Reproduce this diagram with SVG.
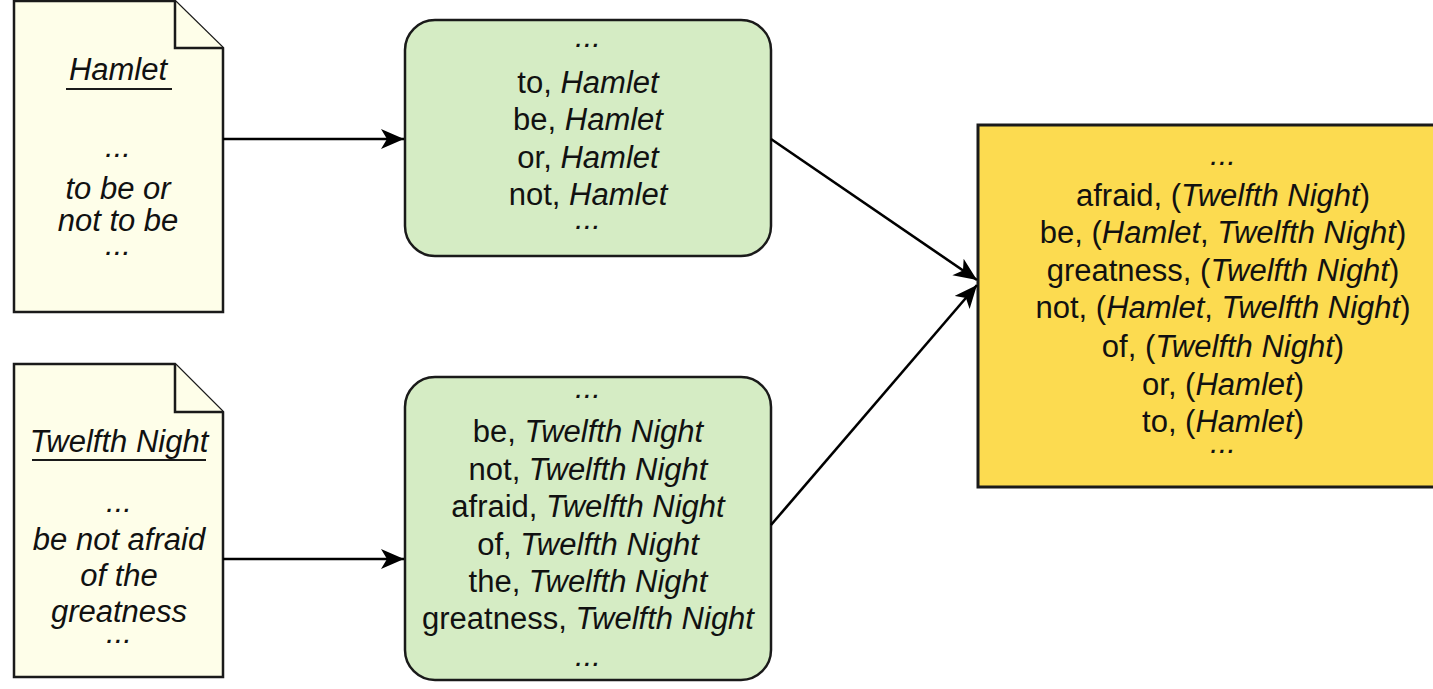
<svg xmlns="http://www.w3.org/2000/svg" width="1433" height="689" viewBox="0 0 1433 689">
<style>
text{font-family:"Liberation Sans",Arial,sans-serif;font-size:31px;fill:#111;text-anchor:middle}
.i{font-style:italic}
.doc{fill:#fefee9;stroke:#1a1a1a;stroke-width:2.5}
.grn{fill:#d5ecc4;stroke:#1a1a1a;stroke-width:2.5}
.yel{fill:#fcdb50;stroke:#1a1a1a;stroke-width:3}
.ul{stroke:#1a1a1a;stroke-width:2}
.con{fill:none;stroke:#000;stroke-width:2.6;marker-end:url(#arr)}
</style>
<defs>
<marker id="arr" markerUnits="userSpaceOnUse" markerWidth="24" markerHeight="22" refX="23" refY="10" orient="auto">
<path d="M0,0 L23,10 L0,20 L6,10 Z" fill="#000"/>
</marker>
</defs>
<g id="doc-hamlet">
<path class="doc" d="M14,1 H175 L223,48 V312 H14 Z"/>
<path class="doc" d="M175,1 V48 H223"/>
<text class="i" x="118" y="80">Hamlet</text>
<line class="ul" x1="66" y1="89" x2="172" y2="89"/>
<text class="i" x="118" y="157">...</text>
<text class="i" x="118" y="199">to be or</text>
<text class="i" x="118" y="231">not to be</text>
<text class="i" x="118" y="255">...</text>
</g>
<g id="doc-twelfth">
<path class="doc" d="M14,364 H175 L223,412 V677 H14 Z"/>
<path class="doc" d="M175,364 V412 H223"/>
<text class="i" x="119" y="452">Twelfth Night</text>
<line class="ul" x1="32" y1="460" x2="206" y2="460"/>
<text class="i" x="119" y="512">...</text>
<text class="i" x="119" y="550">be not afraid</text>
<text class="i" x="119" y="586">of the</text>
<text class="i" x="119" y="622">greatness</text>
<text class="i" x="119" y="643">...</text>
</g>
<g id="map-hamlet">
<rect class="grn" x="405" y="20" width="366" height="236" rx="30" ry="30"/>
<text class="i" x="588" y="47">...</text>
<text x="588" y="93">to, <tspan class="i">Hamlet</tspan></text>
<text x="588" y="130">be, <tspan class="i">Hamlet</tspan></text>
<text x="588" y="168">or, <tspan class="i">Hamlet</tspan></text>
<text x="588" y="205">not, <tspan class="i">Hamlet</tspan></text>
<text class="i" x="588" y="229">...</text>
</g>
<g id="map-twelfth">
<rect class="grn" x="405" y="377" width="366" height="303" rx="30" ry="30"/>
<text class="i" x="588" y="398">...</text>
<text x="588" y="442">be, <tspan class="i">Twelfth Night</tspan></text>
<text x="588" y="480">not, <tspan class="i">Twelfth Night</tspan></text>
<text x="588" y="517">afraid, <tspan class="i">Twelfth Night</tspan></text>
<text x="588" y="555">of, <tspan class="i">Twelfth Night</tspan></text>
<text x="588" y="592">the, <tspan class="i">Twelfth Night</tspan></text>
<text x="588" y="629">greatness, <tspan class="i">Twelfth Night</tspan></text>
<text class="i" x="588" y="666">...</text>
</g>
<g id="reduce">
<rect class="yel" x="978" y="125" width="490" height="362"/>
<text class="i" x="1223" y="165">...</text>
<text x="1223" y="206">afraid, (<tspan class="i">Twelfth Night</tspan>)</text>
<text x="1223" y="243">be, (<tspan class="i">Hamlet</tspan>, <tspan class="i">Twelfth Night</tspan>)</text>
<text x="1223" y="281">greatness, (<tspan class="i">Twelfth Night</tspan>)</text>
<text x="1223" y="318">not, (<tspan class="i">Hamlet</tspan>, <tspan class="i">Twelfth Night</tspan>)</text>
<text x="1223" y="357">of, (<tspan class="i">Twelfth Night</tspan>)</text>
<text x="1223" y="395">or, (<tspan class="i">Hamlet</tspan>)</text>
<text x="1223" y="432">to, (<tspan class="i">Hamlet</tspan>)</text>
<text class="i" x="1223" y="453">...</text>
</g>
<g id="connectors">
<path class="con" d="M223,139 L404,139"/>
<path class="con" d="M223,559 L404,559"/>
<path class="con" d="M771,139 L977,280"/>
<path class="con" d="M771,525 L977,285"/>
</g>
</svg>
